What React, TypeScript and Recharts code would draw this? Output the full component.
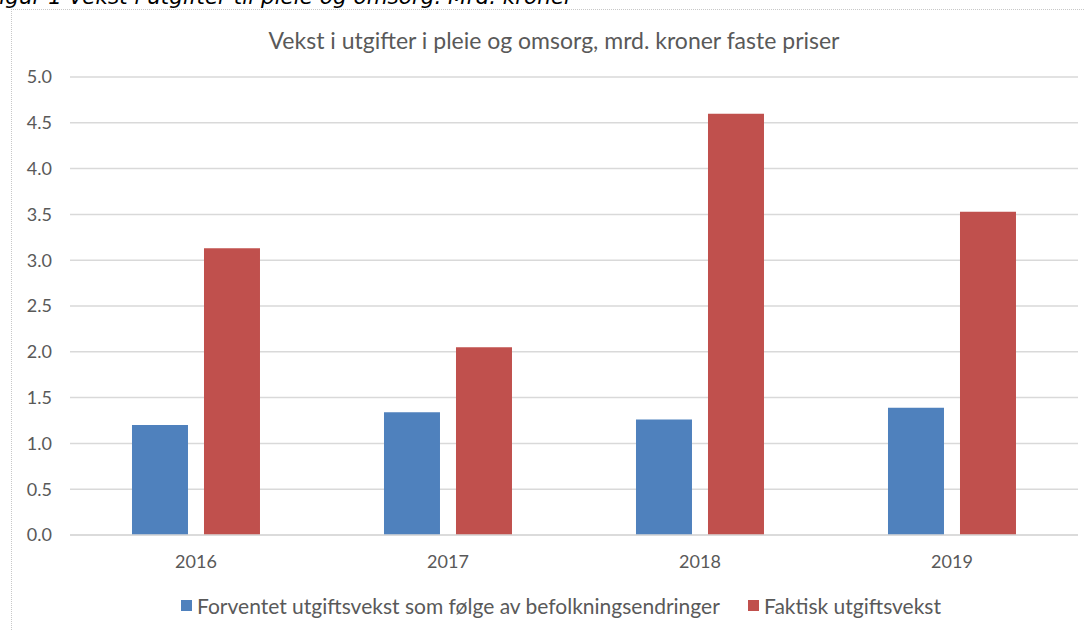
import { BarChart, Bar, XAxis, YAxis, CartesianGrid, Legend } from "recharts";

const years = ["2016", "2017", "2018", "2019"];
const forventet = [1.2, 1.34, 1.26, 1.39];
const faktisk = [3.13, 2.05, 4.6, 3.53];
const yTicks = [0, 0.5, 1, 1.5, 2, 2.5, 3, 3.5, 4, 4.5, 5];

const seriesNames = {
  forventet: "Forventet utgiftsvekst som følge av befolkningsendringer",
  faktisk: "Faktisk utgiftsvekst",
};

const data = years.map((year, i) => ({
  year,
  forventet: forventet[i],
  faktisk: faktisk[i],
}));

const textGray = "#595959";
const gridGray = "#d9d9d9";
const blue = "#4f81bd";
const red = "#c0504d";

function LegendBox() {
  const items = [
    { name: seriesNames.forventet, color: blue, left: 181 },
    { name: seriesNames.faktisk, color: red, left: 748 },
  ];
  return (
    <div style={{ position: "relative", height: 40 }}>
      {items.map((it) => (
        <div
          key={it.name}
          style={{
            position: "absolute",
            left: it.left,
            top: 0,
            height: 40,
            display: "flex",
            alignItems: "center",
            gap: 5,
            fontSize: 21,
            color: textGray,
            whiteSpace: "nowrap",
          }}
        >
          <span style={{ width: 11, height: 11, background: it.color, display: "inline-block" }} />
          <span>{it.name}</span>
        </div>
      ))}
    </div>
  );
}

export default function App() {
  return (
    <div
      style={{
        position: "absolute",
        left: 0,
        top: 0,
        width: 1084,
        height: 630,
        overflow: "hidden",
        background: "#fff",
        fontFamily: "Lato, sans-serif",
      }}
    >
      <div
        style={{
          position: "absolute",
          left: -13,
          top: -14,
          fontFamily: "'DejaVu Sans', sans-serif",
          fontStyle: "italic",
          fontSize: 21.5,
          lineHeight: "22px",
          color: "#000",
          whiteSpace: "nowrap",
        }}
      >
        Figur 1 Vekst i utgifter til pleie og omsorg. Mrd. kroner
      </div>
      <div
        style={{
          position: "absolute",
          left: 11,
          top: 9,
          right: -2,
          bottom: -2,
          borderLeft: "1px dotted #c8c8c8",
          borderTop: "1px dotted #c8c8c8",
        }}
      />
      <div
        style={{
          position: "absolute",
          left: 0,
          width: 1084,
          top: 26,
          textAlign: "center",
          fontSize: 23,
          color: textGray,
          paddingLeft: 24,
          boxSizing: "border-box",
        }}
      >
        Vekst i utgifter i pleie og omsorg, mrd. kroner faste priser
      </div>
      <BarChart
        width={1084}
        height={630}
        data={data}
        margin={{ top: 77, right: 6, left: 0, bottom: 5 }}
        barCategoryGap="24.6%"
        barGap={16}
      >
        <CartesianGrid vertical={false} stroke={gridGray} strokeWidth={1.5} />
        <XAxis
          dataKey="year"
          height={50}
          tickLine={false}
          axisLine={{ stroke: gridGray, strokeWidth: 1.5 }}
          tickMargin={14}
          tick={{ fill: textGray, fontSize: 18 }}
        />
        <YAxis
          width={70}
          domain={[0, 5]}
          ticks={yTicks}
          interval={0}
          tickLine={false}
          axisLine={false}
          tickMargin={12}
          tickFormatter={(v: number) => v.toFixed(1)}
          tick={{ fill: textGray, fontSize: 18 }}
        />
        <Legend verticalAlign="bottom" height={40} content={() => <LegendBox />} />
        <Bar dataKey="forventet" name={seriesNames.forventet} fill={blue} isAnimationActive={false} />
        <Bar dataKey="faktisk" name={seriesNames.faktisk} fill={red} isAnimationActive={false} />
      </BarChart>
    </div>
  );
}
